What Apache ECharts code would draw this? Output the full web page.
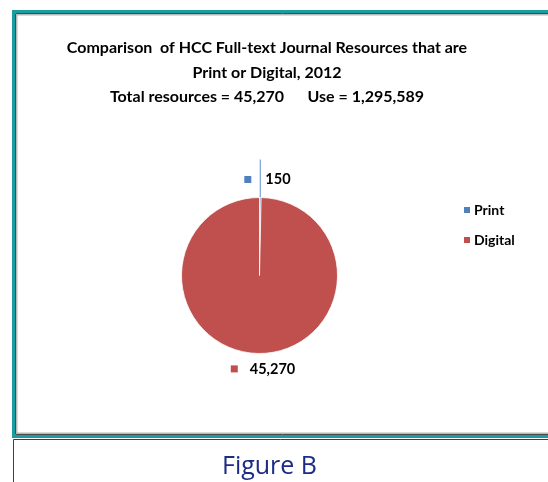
<!DOCTYPE html>
<html>
<head>
<meta charset="utf-8">
<script src="https://cdn.jsdelivr.net/npm/echarts@6/dist/echarts.min.js"></script>
<style>
  html, body {margin: 0; padding: 0; background: #fff;}
  #main {width: 548px; height: 482px;}
</style>
</head>
<body>
<div id="main"></div>
<script>
  const categories = ['Print', 'Digital'];
  const values = [150, 45270];
  const colors = ['#4F81BD', '#C0504D'];
  const titleLines = [
    'Comparison  of HCC Full-text Journal Resources that are',
    'Print or Digital, 2012',
    'Total resources = 45,270      Use = 1,295,589'
  ];
  const caption = 'Figure B';

  const chart = echarts.init(document.getElementById('main'));
  const font = 'Lato, "Liberation Sans", sans-serif';

  chart.setOption({
    animation: false,
    textStyle: {fontFamily: font},
    title: {
      text: titleLines.join('\n'),
      left: 262,
      textAlign: 'center',
      top: 31,
      textStyle: {fontSize: 16, fontWeight: 'bold', color: '#000', lineHeight: 24.5, fontFamily: font}
    },
    legend: {
      orient: 'vertical',
      left: 457,
      top: 198,
      itemWidth: 8,
      itemHeight: 8,
      itemGap: 16,
      icon: 'rect',
      data: categories,
      textStyle: {fontSize: 14, fontWeight: 'bold', color: '#000', padding: [0, 0, 0, -2]}
    },
    graphic: [
      {type: 'rect', silent: true, shape: {x: 13.5, y: 11.5, width: 600, height: 425}, style: {fill: null, stroke: '#1a9ca3', lineWidth: 3}},
      {type: 'rect', silent: true, shape: {x: 15.5, y: 13.5, width: 600, height: 421}, style: {fill: null, stroke: '#4a4a4a', lineWidth: 1}},
      {type: 'rect', silent: true, shape: {x: 16.75, y: 14.75, width: 600, height: 418.5}, style: {fill: null, stroke: '#b8b8b8', lineWidth: 1.5}},
      {type: 'polyline', silent: true, shape: {points: [[13.5, 482], [13.5, 439.5], [548, 439.5]]}, style: {fill: null, stroke: '#2b3a8c', lineWidth: 1}},
      {type: 'text', silent: true, left: 222, top: 454, style: {text: caption, fontSize: 25, fill: '#1c2c86', fontFamily: '"Open Sans", "Noto Sans", sans-serif'}}
    ],
    series: [
      {
        type: 'pie',
        center: [259.5, 275.5],
        radius: 78,
        startAngle: 90,
        clockwise: true,
        color: colors,
        itemStyle: {borderColor: '#fff', borderWidth: 0.8},
        label: {
          show: true,
          position: 'outside',
          color: '#000',
          fontWeight: 'bold',
          fontSize: 14,
          formatter: p => '{m|}{g|}{v|' + echarts.format.addCommas(p.value) + '}',
          rich: {
            m: {width: 7, height: 7, backgroundColor: 'inherit'},
            g: {width: 14},
            v: {fontSize: 14.5, fontWeight: 'bold', color: '#000', fontFamily: font}
          }
        },
        labelLine: {show: true, length: 38, length2: 0, lineStyle: {color: '#86a9d6', width: 1.3}},
        labelLayout: function (p) {
          if (p.dataIndex === 0) {
            const pts = p.labelLinePoints;
            const x0 = pts[0][0], y0 = pts[0][1];
            const top = y0 - 38;
            return {
              x: x0 - 16, y: top + 20, align: 'left', verticalAlign: 'middle',
              labelLinePoints: [[x0, y0], [x0, top], [x0, top]]
            };
          }
          return {
            x: p.rect.x + p.rect.width / 2 + 3.5,
            y: p.rect.y + p.rect.height + 15,
            align: 'center', verticalAlign: 'middle'
          };
        },
        data: categories.map((name, i) => ({
          name: name,
          value: values[i],
          itemStyle: {color: colors[i]},
          label: i === 1 ? {rich: {g: {width: 12}, m: {backgroundColor: colors[i]}}} : {rich: {m: {backgroundColor: colors[i]}}},
          labelLine: i === 1 ? {show: false} : undefined
        }))
      }
    ]
  });
</script>
</body>
</html>
